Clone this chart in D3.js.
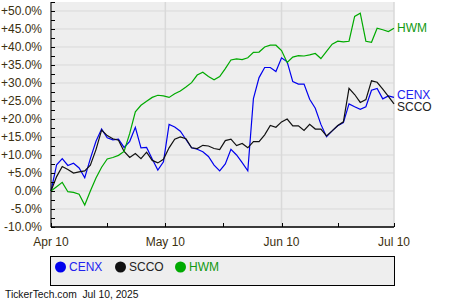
<!DOCTYPE html>
<html>
<head>
<meta charset="utf-8">
<script src="https://cdn.jsdelivr.net/npm/d3@7"></script>
<style>
  body { margin: 0; background: #fff; }
  svg { display: block; font-family: "Liberation Sans", Arial, sans-serif; }
</style>
</head>
<body>
<div id="chart"></div>
<script>
// trading days, Apr 10 - Jul 10 2025
const dates = [
  "2025-04-10", "2025-04-11", "2025-04-14", "2025-04-15", "2025-04-16", "2025-04-17",
  "2025-04-21", "2025-04-22", "2025-04-23", "2025-04-24", "2025-04-25", "2025-04-28",
  "2025-04-29", "2025-04-30", "2025-05-01", "2025-05-02", "2025-05-05", "2025-05-06",
  "2025-05-07", "2025-05-08", "2025-05-09", "2025-05-12", "2025-05-13", "2025-05-14",
  "2025-05-15", "2025-05-16", "2025-05-19", "2025-05-20", "2025-05-21", "2025-05-22",
  "2025-05-23", "2025-05-27", "2025-05-28", "2025-05-29", "2025-05-30", "2025-06-02",
  "2025-06-03", "2025-06-04", "2025-06-05", "2025-06-06", "2025-06-09", "2025-06-10",
  "2025-06-11", "2025-06-12", "2025-06-13", "2025-06-16", "2025-06-17", "2025-06-18",
  "2025-06-20", "2025-06-23", "2025-06-24", "2025-06-25", "2025-06-26", "2025-06-27",
  "2025-06-30", "2025-07-01", "2025-07-02", "2025-07-03", "2025-07-07", "2025-07-08",
  "2025-07-09", "2025-07-10",
];

// % change since Apr 10
const cenx = [
  0, 7.3, 9.0, 7.1, 7.7, 6.4, 3.7, 9.0, 13.8, 17.2, 14.8, 14.2, 14.4, 12.1, 13.8, 17.7,
  12.0, 12.1, 8.9, 5.8, 8.1, 18.5, 17.8, 16.6, 14.3, 12.0, 11.6, 10.9, 9.6, 7.2, 5.6, 7.5,
  11.6, 10.0, 7.9, 5.6, 25.7, 31.5, 34.3, 34.3, 33.2, 37.0, 35.9, 30.4, 29.7, 29.7, 25.5, 23.0,
  18.5, 15.1, 16.7, 18.1, 19.0, 24.2, 23.4, 22.7, 23.4, 28.0, 28.5, 25.6, 26.4, 26.0,
];
const scco = [
  0, 4.0, 6.8, 6.0, 5.0, 5.3, 5.6, 7.2, 11.5, 16.9, 15.4, 14.5, 14.1, 11.0, 9.3, 10.4,
  9.0, 10.8, 8.5, 7.8, 8.8, 12.0, 14.4, 15.0, 14.5, 12.0, 11.8, 12.7, 12.5, 11.8, 11.5, 14.0,
  14.4, 12.6, 13.2, 12.0, 13.7, 13.7, 15.6, 18.2, 17.7, 19.2, 20.0, 18.1, 18.1, 16.8, 18.5, 17.2,
  17.2, 15.3, 16.7, 18.2, 19.2, 28.5, 26.8, 24.6, 25.4, 30.6, 30.2, 28.3, 26.3, 24.2,
];
const hwm = [
  0, 1.2, 2.4, -0.2, -0.4, -0.9, -3.9, 0.0, 3.6, 6.6, 8.9, 9.3, 9.9, 11.0, 16.0, 22.0,
  23.8, 24.9, 26.0, 26.6, 26.4, 26.0, 27.0, 27.8, 28.9, 30.1, 32.2, 33.0, 31.8, 30.9, 31.8, 34.0,
  36.4, 36.7, 36.5, 37.0, 38.5, 38.6, 40.0, 40.5, 40.5, 39.0, 35.7, 37.2, 37.6, 37.5, 37.8, 38.2,
  36.8, 38.8, 40.8, 41.6, 41.4, 41.6, 48.5, 49.4, 41.6, 41.3, 45.2, 44.8, 44.3, 45.2,
];

const series = [
  { name: "CENX", values: cenx, color: "#0000ee", labelColor: "#2222ee" },
  { name: "SCCO", values: scco, color: "#111111", labelColor: "#222222" },
  { name: "HWM", values: hwm, color: "#00aa00", labelColor: "#119911" },
];

const yTicks = [50, 45, 40, 35, 30, 25, 20, 15, 10, 5, 0, -5, -10];
const xMinorTicks = ["2025-04-25", "2025-05-10", "2025-05-25", "2025-06-10", "2025-06-25"];
const xLabels = ["2025-04-10", "2025-05-10", "2025-06-10", "2025-07-10"];

const W = 450, H = 300;
const margin = { top: 2, right: 56, bottom: 73, left: 51 };
const width = W - margin.left - margin.right,
  height = H - margin.top - margin.bottom;

const parse = d3.timeParse("%Y-%m-%d");
const dayDates = dates.map(parse);

const x = d3.scaleLinear().domain([0, dates.length - 1]).range([0, width]);
const y = d3.scaleLinear().domain([-10, 52.5]).range([height, 0]);

// position of any calendar date on the trading-day axis
const bis = d3.bisector((d) => d).left;
function xDate(s) {
  const t = parse(s);
  const i = bis(dayDates, t);
  if (i <= 0) return x(0);
  if (i >= dayDates.length) return x(dayDates.length - 1);
  const a = dayDates[i - 1], b = dayDates[i];
  return x(i - 1 + (t - a) / (b - a));
}

const svg = d3.select("#chart").append("svg").attr("width", W).attr("height", H);
const g = svg.append("g").attr("transform", `translate(${margin.left},${margin.top})`);

g.append("rect").attr("width", width).attr("height", height).attr("fill", "#eeeeee");

// grid
g.selectAll(".hgrid")
  .data(yTicks)
  .enter()
  .append("line")
  .attr("x1", 0)
  .attr("x2", width)
  .attr("y1", (d) => y(d))
  .attr("y2", (d) => y(d))
  .attr("stroke", "#d9d9d9")
  .attr("stroke-width", 1);

g.selectAll(".vgrid")
  .data(xLabels)
  .enter()
  .append("line")
  .attr("x1", (d) => xDate(d))
  .attr("x2", (d) => xDate(d))
  .attr("y1", 0)
  .attr("y2", height)
  .attr("stroke", "#d9d9d9")
  .attr("stroke-width", 1.5);

// lines
const line = d3
  .line()
  .x((d, i) => x(i))
  .y((d) => y(d));

series.forEach((s) => {
  g.append("path")
    .datum(s.values)
    .attr("fill", "none")
    .attr("stroke", s.color)
    .attr("stroke-width", 1.2)
    .attr("d", line);
});

// y axis
const yAxis = g.append("g");
yAxis.append("line").attr("x1", 0).attr("x2", 0).attr("y1", 0).attr("y2", height).attr("stroke", "#000");
yAxis
  .selectAll(".ytick")
  .data(d3.range(-10, 52.6, 2.5))
  .enter()
  .append("line")
  .attr("x1", 0)
  .attr("x2", 4)
  .attr("y1", (d) => Math.round(y(d)) + 0.5)
  .attr("y2", (d) => Math.round(y(d)) + 0.5)
  .attr("stroke", "#000");
yAxis
  .selectAll(".ylab")
  .data(yTicks)
  .enter()
  .append("text")
  .attr("x", -9)
  .attr("y", (d) => y(d))
  .attr("dy", "0.35em")
  .attr("text-anchor", "end")
  .attr("font-size", 12)
  .attr("fill", "#3c3010")
  .text((d) => (d > 0 ? "+" : "") + d.toFixed(1) + "%");

// x axis
const xAxis = g.append("g").attr("transform", `translate(0,${height})`);
xAxis.append("line").attr("x1", 0).attr("x2", width).attr("stroke", "#000").attr("stroke-width", 1.5);
xAxis
  .selectAll(".xtick")
  .data(xMinorTicks.concat(xLabels))
  .enter()
  .append("line")
  .attr("x1", (d) => Math.round(xDate(d)) + 0.5)
  .attr("x2", (d) => Math.round(xDate(d)) + 0.5)
  .attr("y1", 0)
  .attr("y2", -4)
  .attr("stroke", "#000");
const fmt = d3.timeFormat("%b %-d");
xAxis
  .selectAll(".xlab")
  .data(xLabels)
  .enter()
  .append("text")
  .attr("x", (d) => xDate(d))
  .attr("y", 19)
  .attr("text-anchor", "middle")
  .attr("font-size", 12)
  .attr("fill", "#3c3010")
  .text((d) => fmt(parse(d)));

// end labels, pushed apart when they collide
const minGap = 12.5;
const ends = series.map((s) => ({ s, y: y(s.values[s.values.length - 1]) }));
ends.sort((a, b) => a.y - b.y);
for (let k = 1; k < ends.length; k++) {
  const gap = ends[k].y - ends[k - 1].y;
  if (gap < minGap) {
    const shift = (minGap - gap) / 2;
    ends[k - 1].y -= shift;
    ends[k].y += shift;
  }
}
ends.forEach((e) => {
  g.append("text")
    .attr("x", width + 3)
    .attr("y", e.y)
    .attr("dy", "0.35em")
    .attr("font-size", 12)
    .attr("fill", e.s.labelColor)
    .text(e.s.name);
});

// legend
const lg = svg.append("g").attr("transform", "translate(50.5,256.5)");
lg.append("rect").attr("width", 344).attr("height", 29).attr("fill", "#eeeeee").attr("stroke", "#000");
series.forEach((s, i) => {
  const it = lg.append("g").attr("transform", `translate(${10 + i * 60},10.5)`);
  it.append("circle").attr("r", 5.5).attr("fill", s.color);
  it.append("text")
    .attr("x", 8.5)
    .attr("dy", "0.35em")
    .attr("font-size", 12)
    .attr("fill", s.labelColor)
    .text(s.name);
});

svg.append("text")
  .attr("x", 5)
  .attr("y", 297.5)
  .attr("font-size", 10.3)
  .attr("fill", "#111")
  .style("white-space", "pre")
  .text("TickerTech.com  Jul 10, 2025");
</script>
</body>
</html>
